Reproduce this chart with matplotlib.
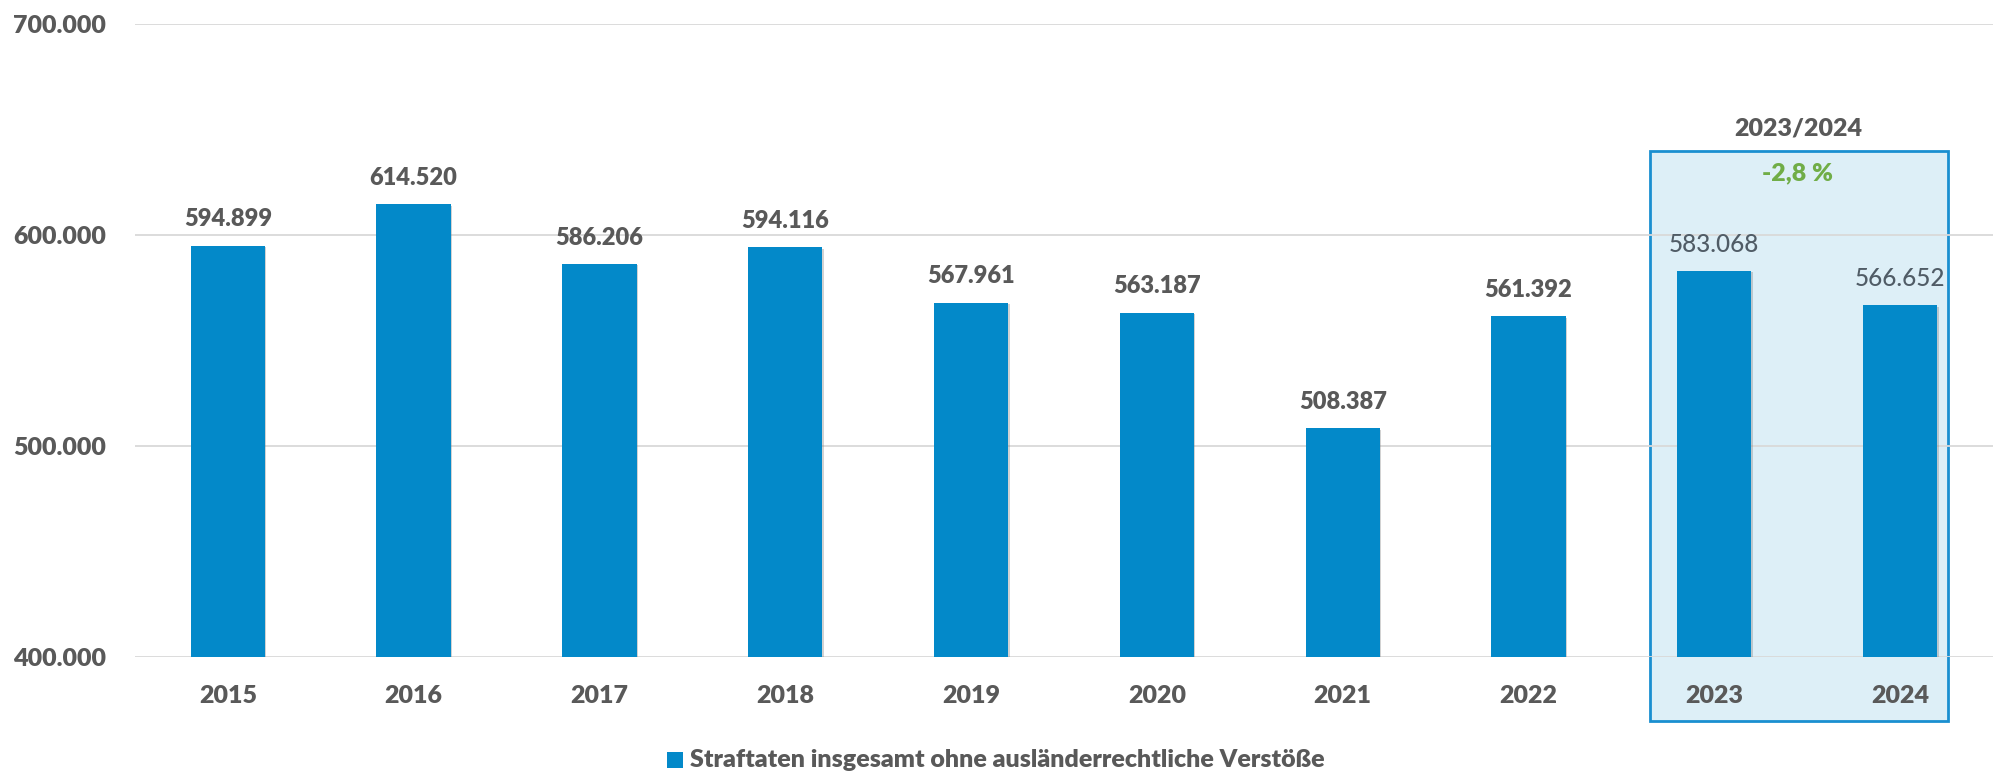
import matplotlib.pyplot as plt
import matplotlib.patheffects as pe
from matplotlib.patches import Rectangle
from matplotlib.ticker import FuncFormatter

years = ["2015", "2016", "2017", "2018", "2019", "2020", "2021", "2022", "2023", "2024"]
values = [594899, 614520, 586206, 594116, 567961, 563187, 508387, 561392, 583068, 566652]
value_labels = ["594.899", "614.520", "586.206", "594.116", "567.961",
                "563.187", "508.387", "561.392", "583.068", "566.652"]
series_name = "Straftaten insgesamt ohne ausländerrechtliche Verstöße"
box_title = "2023/2024"
box_change = "-2,8 %"

plt.rcParams['font.family'] = ['Lato', 'DejaVu Sans']
gray = '#595959'
blue = '#0389c9'

fig = plt.figure(figsize=(19.93, 7.73), dpi=100)
ax = fig.add_axes([0.0677, 0.150, 0.9323, 0.819])

x = list(range(len(years)))
bars = ax.bar(x, values, width=0.40, bottom=0, color=blue, zorder=3)
for b in bars:
    b.set_path_effects([pe.SimplePatchShadow(offset=(1, -1), shadow_rgbFace='#7f7f7f', alpha=0.35),
                        pe.Normal()])

ax.set_ylim(400000, 700000)
ax.set_xlim(-0.5, len(years) - 0.5)
ax.set_yticks([400000, 500000, 600000, 700000])
ax.yaxis.set_major_formatter(FuncFormatter(lambda v, p: f"{int(v):,}".replace(",", ".")))
ax.set_xticks(x)
ax.set_xticklabels(years)
ax.tick_params(axis='both', length=0, labelsize=18, labelcolor=gray)
ax.tick_params(axis='y', pad=21)
ax.tick_params(axis='x', pad=20)
for lab in ax.get_xticklabels() + ax.get_yticklabels():
    lab.set_fontweight('heavy')
ax.grid(axis='y', color='#d9d9d9', lw=1.3, zorder=0)
for s in ax.spines.values():
    s.set_visible(False)

# highlight box for the last two years
box = Rectangle((7.656, 369700), 9.258 - 7.656, 639800 - 369700,
                facecolor='#ddeff7', edgecolor='#1a8fd0', lw=2, zorder=1, clip_on=False)
ax.add_patch(box)
ax.text(8.45, 650700, box_title, ha='center', va='center', fontsize=18,
        fontweight='heavy', color=gray)
ax.text(8.45, 629400, box_change, ha='center', va='center', fontsize=18,
        fontweight='heavy', color='#70ad47')

for i, (v, lab) in enumerate(zip(values, value_labels)):
    inside = i >= 8
    ax.annotate(lab, (i, v), xytext=(0, 19), textcoords='offset points',
                ha='center', va='center', fontsize=17.5 if inside else 17,
                fontweight='medium' if inside else 'heavy',
                color='#505c66' if inside else gray, zorder=4)

# legend
fig.patches.append(Rectangle((667 / 1993, 1 - 768 / 773), 16 / 1993, 16 / 773,
                             transform=fig.transFigure, facecolor=blue, edgecolor='none'))
fig.text(690 / 1993, 1 - 760 / 773, series_name, ha='left', va='center',
         fontsize=18, fontweight='heavy', color=gray)

plt.savefig("out.png", dpi=100)
